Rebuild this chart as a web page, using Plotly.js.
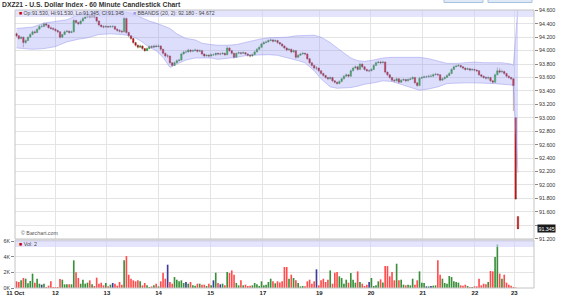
<!DOCTYPE html>
<html><head><meta charset="utf-8">
<script src="https://cdn.plot.ly/plotly-3.0.1.min.js"></script>
<style>html,body{margin:0;padding:0;background:#fff}#chart{width:562px;height:300px}</style>
</head><body><div id="chart"></div>
<script>
// ---- data (60-minute bars, DXZ21) ----
const openP = [
94.25,94.22,94.18,94.20,94.12,94.15,94.20,94.24,94.28,94.27,
94.32,94.36,94.36,94.40,94.38,94.34,94.33,94.32,94.30,94.28,
94.20,94.24,94.28,94.29,94.27,94.28,94.45,94.42,94.40,94.44,
94.48,94.50,94.52,94.50,94.53,94.50,94.44,94.38,94.36,94.35,
94.36,94.35,94.36,94.36,94.32,94.30,94.29,94.28,94.48,94.27,
94.22,94.18,94.12,94.08,94.05,94.07,94.03,94.00,94.03,94.06,
94.05,94.07,94.06,94.07,94.02,93.96,93.92,93.92,93.82,93.78,
93.82,93.85,93.86,93.95,93.98,93.98,94.01,93.99,94.00,94.01,
93.99,94.00,93.95,93.92,93.93,93.92,93.94,93.94,93.96,93.95,
93.95,93.96,93.94,94.04,94.00,93.96,93.90,93.96,93.97,93.96,
93.97,93.95,93.93,93.92,93.94,93.98,94.02,94.05,94.10,94.12,
94.13,94.15,94.16,94.14,94.15,94.12,94.10,94.07,94.04,94.01,
94.02,93.98,94.00,93.90,93.93,93.95,93.96,93.95,93.88,93.82,
93.78,93.74,93.74,93.70,93.66,93.63,93.60,93.58,93.60,93.55,
93.53,93.51,93.54,93.58,93.62,93.64,93.62,93.70,93.74,93.76,
93.72,93.80,93.76,93.72,93.70,93.70,93.72,93.78,93.82,93.83,
93.82,93.83,93.68,93.64,93.60,93.56,93.55,93.58,93.53,93.56,
93.57,93.55,93.57,93.58,93.60,93.52,93.48,93.59,93.60,93.61,
93.61,93.62,93.62,93.64,93.65,93.64,93.56,93.58,93.60,93.63,
93.66,93.72,93.76,93.77,93.78,93.76,93.74,93.72,93.73,93.71,
93.72,93.71,93.70,93.64,93.62,93.60,93.59,93.60,93.55,93.53,
93.64,93.70,93.68,93.69,93.66,93.62,93.60,93.58,93.00,91.53];
const highP = [
94.27,94.23,94.22,94.21,94.17,94.21,94.26,94.30,94.30,94.33,
94.38,94.39,94.42,94.41,94.39,94.36,94.35,94.33,94.31,94.29,
94.25,94.30,94.31,94.30,94.30,94.47,94.46,94.43,94.46,94.50,
94.53,94.55,94.54,94.57,94.55,94.51,94.45,94.39,94.38,94.38,
94.37,94.38,94.38,94.37,94.33,94.32,94.31,94.50,94.49,94.28,
94.23,94.19,94.13,94.09,94.09,94.08,94.04,94.05,94.08,94.08,
94.09,94.09,94.09,94.08,94.03,93.97,93.95,93.93,93.83,93.84,
93.87,93.88,93.97,94.00,94.01,94.03,94.02,94.02,94.03,94.02,
94.02,94.01,93.96,93.95,93.95,93.96,93.96,93.97,93.97,93.97,
93.98,93.97,94.07,94.05,94.01,93.97,93.97,93.99,93.98,93.99,
93.98,93.96,93.95,93.96,94.00,94.04,94.07,94.12,94.14,94.15,
94.17,94.18,94.17,94.17,94.16,94.13,94.11,94.08,94.05,94.04,
94.03,94.02,94.01,93.95,93.97,93.98,93.97,93.96,93.89,93.83,
93.79,93.77,93.75,93.71,93.67,93.64,93.61,93.62,93.61,93.56,
93.54,93.56,93.60,93.64,93.66,93.65,93.72,93.76,93.78,93.77,
93.82,93.81,93.77,93.73,93.72,93.74,93.80,93.84,93.85,93.85,
93.85,93.84,93.69,93.65,93.61,93.58,93.60,93.59,93.58,93.59,
93.58,93.59,93.60,93.62,93.61,93.53,93.61,93.62,93.63,93.63,
93.64,93.65,93.66,93.67,93.66,93.65,93.60,93.62,93.65,93.68,
93.74,93.78,93.79,93.80,93.79,93.77,93.75,93.75,93.74,93.74,
93.73,93.72,93.71,93.65,93.63,93.62,93.62,93.61,93.56,93.66,
93.75,93.74,93.72,93.70,93.67,93.63,93.61,93.59,93.00,91.53];
const lowP = [
94.20,94.16,94.17,94.05,94.10,94.14,94.19,94.23,94.25,94.26,
94.31,94.34,94.35,94.36,94.33,94.31,94.30,94.28,94.26,94.18,
94.19,94.23,94.27,94.25,94.26,94.27,94.40,94.38,94.39,94.43,
94.47,94.49,94.48,94.49,94.48,94.42,94.36,94.34,94.33,94.34,
94.34,94.34,94.34,94.31,94.28,94.27,94.26,94.27,94.25,94.20,
94.16,94.10,94.06,94.03,94.04,94.01,93.98,93.99,94.02,94.03,
94.04,94.05,94.05,94.00,93.94,93.90,93.89,93.80,93.76,93.77,
93.81,93.84,93.85,93.94,93.96,93.97,93.97,93.98,93.99,93.97,
93.98,93.93,93.90,93.91,93.90,93.91,93.92,93.92,93.93,93.93,
93.94,93.92,93.93,93.98,93.94,93.88,93.89,93.95,93.94,93.95,
93.93,93.91,93.90,93.91,93.93,93.97,94.01,94.04,94.09,94.11,
94.12,94.14,94.12,94.13,94.10,94.08,94.05,94.02,93.99,94.00,
93.96,93.97,93.88,93.89,93.92,93.94,93.93,93.86,93.80,93.76,
93.72,93.71,93.68,93.64,93.61,93.58,93.56,93.57,93.53,93.51,
93.49,93.50,93.53,93.57,93.61,93.60,93.61,93.69,93.73,93.70,
93.71,93.74,93.70,93.68,93.68,93.69,93.71,93.77,93.81,93.80,
93.81,93.66,93.62,93.58,93.54,93.53,93.54,93.51,93.52,93.55,
93.53,93.54,93.56,93.57,93.50,93.46,93.47,93.58,93.59,93.59,
93.60,93.60,93.61,93.63,93.62,93.54,93.55,93.57,93.59,93.62,
93.65,93.71,93.75,93.76,93.74,93.72,93.70,93.71,93.69,93.70,
93.69,93.68,93.62,93.60,93.58,93.57,93.57,93.53,93.51,93.52,
93.63,93.66,93.67,93.64,93.60,93.58,93.56,93.10,91.78,91.345];
const closeP = [
94.22,94.18,94.20,94.12,94.15,94.20,94.24,94.28,94.27,94.32,
94.36,94.36,94.40,94.38,94.34,94.33,94.32,94.30,94.28,94.20,
94.24,94.28,94.29,94.27,94.28,94.45,94.42,94.40,94.44,94.48,
94.50,94.52,94.50,94.53,94.50,94.44,94.38,94.36,94.35,94.36,
94.35,94.36,94.36,94.32,94.30,94.29,94.28,94.48,94.27,94.22,
94.18,94.12,94.08,94.05,94.07,94.03,94.00,94.03,94.06,94.05,
94.07,94.06,94.07,94.02,93.96,93.92,93.92,93.82,93.78,93.82,
93.85,93.86,93.95,93.98,93.98,94.01,93.99,94.00,94.01,93.99,
94.00,93.95,93.92,93.93,93.92,93.94,93.94,93.96,93.95,93.95,
93.96,93.94,94.04,94.00,93.96,93.90,93.96,93.97,93.96,93.97,
93.95,93.93,93.92,93.94,93.98,94.02,94.05,94.10,94.12,94.13,
94.15,94.16,94.14,94.15,94.12,94.10,94.07,94.04,94.01,94.02,
93.98,94.00,93.90,93.93,93.95,93.96,93.95,93.88,93.82,93.78,
93.74,93.74,93.70,93.66,93.63,93.60,93.58,93.60,93.55,93.53,
93.51,93.54,93.58,93.62,93.64,93.62,93.70,93.74,93.76,93.72,
93.80,93.76,93.72,93.70,93.70,93.72,93.78,93.82,93.83,93.82,
93.83,93.68,93.64,93.60,93.56,93.55,93.58,93.53,93.56,93.57,
93.55,93.57,93.58,93.60,93.52,93.48,93.59,93.60,93.61,93.61,
93.62,93.62,93.64,93.65,93.64,93.56,93.58,93.60,93.63,93.66,
93.72,93.76,93.77,93.78,93.76,93.74,93.72,93.73,93.71,93.72,
93.71,93.70,93.64,93.62,93.60,93.59,93.60,93.55,93.53,93.64,
93.70,93.68,93.69,93.66,93.62,93.60,93.58,93.48,91.79,91.345];
const volume = [
850,765,980,1275,1190,600,900,1830,680,1190,
550,425,550,130,300,850,130,130,130,1150,
1060,470,470,470,470,3530,2000,1275,550,1060,
550,680,980,470,255,1320,550,680,340,640,
210,425,640,550,300,765,400,3530,4080,1700,
1190,980,850,980,850,340,640,340,130,200,
340,550,210,850,1955,1190,2975,765,550,1400,
1060,850,980,640,765,550,765,340,300,550,
550,425,425,255,550,340,980,1955,640,470,
550,340,2040,1910,2250,1700,640,340,980,340,
425,255,300,340,640,470,255,850,340,425,
765,1190,850,600,850,700,850,2680,2680,1190,
1700,1275,980,640,210,250,210,850,1060,550,
850,2380,340,980,1190,765,1060,2250,550,1955,
2040,1490,1275,550,1060,680,1910,1060,680,2125,
765,550,255,425,765,1275,255,340,850,1100,
700,2800,2800,1490,2040,980,3100,980,1060,425,
340,400,340,1190,425,980,2125,680,640,210,
210,255,300,340,3530,1700,1190,640,550,1530,
1400,850,765,680,340,300,425,255,130,130,
210,210,1190,340,550,470,765,2170,2125,3950,
5570,1830,1190,1700,680,425,300,130,60,2];
// Bollinger band (20,2) read at sampled bars
const bbBars  = [0,7,12,17,22,27,31,36,41,46,50,54,58,61,64,67,70,74,78,81,85,88,92,96,101,106,110,114,118,122,126,130,133,137,140,143,146,149,152,156,160,164,168,172,176,180,184,188,192,196,200,204,208,212,216,217,218,219];
const bbUpper = [94.33,94.35,94.41,94.43,94.46,94.53,94.57,94.58,94.58,94.58,94.56,94.50,94.44,94.41,94.37,94.33,94.25,94.18,94.16,94.11,94.09,94.08,94.08,94.09,94.13,94.17,94.19,94.19,94.20,94.22,94.23,94.23,94.20,94.12,94.04,93.96,93.89,93.85,93.84,93.86,93.89,93.90,93.90,93.90,93.90,93.88,93.85,93.81,93.81,93.82,93.83,93.82,93.82,93.82,93.80,93.78,94.20,94.672];
const bbLower = [94.04,94.02,94.03,94.06,94.13,94.17,94.19,94.24,94.25,94.24,94.22,94.15,94.05,94.00,93.90,93.75,93.80,93.86,93.89,93.89,93.89,93.87,93.88,93.90,93.93,93.94,93.94,93.93,93.90,93.86,93.82,93.70,93.58,93.46,93.44,93.44,93.45,93.47,93.50,93.52,93.55,93.54,93.50,93.45,93.41,93.43,93.46,93.51,93.52,93.52,93.52,93.52,93.51,93.50,93.49,93.47,92.90,92.18];
const dayTickVals = [-0.6,17,39.5,62,84.8,107.6,132.2,154.8,177.4,200.2,217.4];
const dayTickText = ['11 Oct','12','13','14','15','17','19','20','21','22','23'];
const priceTickVals = [91.2,91.4,91.6,91.8,92.0,92.2,92.4,92.6,92.8,93.0,93.2,93.4,93.6,93.8,94.0,94.2,94.4,94.6];
const priceTickText = ['91.200','','91.600','91.800','92.000','92.200','92.400','92.600','92.800','93.000','93.200','93.400','93.600','93.800','94.000','94.200','94.400','94.600'];
const volTickVals = [0,2000,4000,6000];
const volTickText = ['0K','2K','4K','6K'];

const barX = closeP.map((_, i) => i);
const volColors = closeP.map((c, i) => c > openP[i] ? '#3a8f3a' : (c < openP[i] ? '#ff4d4d' : '#3b3b99'));

const FONT = 'Liberation Sans, Arial, sans-serif';

const traces = [
  {type:'scatter', mode:'lines', x:bbBars, y:bbUpper, xaxis:'x', yaxis:'y',
   line:{color:'rgba(140,140,235,0.75)', width:0.6}, hoverinfo:'skip'},
  {type:'scatter', mode:'lines', x:bbBars, y:bbLower, xaxis:'x', yaxis:'y',
   line:{color:'rgba(140,140,235,0.75)', width:0.6}, fill:'tonexty',
   fillcolor:'rgba(150,150,245,0.32)', hoverinfo:'skip'},
  {type:'candlestick', x:barX, open:openP, high:highP, low:lowP, close:closeP,
   xaxis:'x', yaxis:'y', whiskerwidth:0,
   increasing:{line:{color:'#2f5f2f', width:0.35}, fillcolor:'#16c416'},
   decreasing:{line:{color:'#5a2020', width:0.35}, fillcolor:'#ee0a0a'},
   hoverinfo:'skip'},
  {type:'bar', x:barX, y:volume, xaxis:'x', yaxis:'y2', width:0.72,
   marker:{color:volColors, line:{width:0}}, hoverinfo:'skip'}
];

const layout = {
  width:562, height:300,
  margin:{l:15, r:28, t:10, b:12},
  paper_bgcolor:'#fff', plot_bgcolor:'#fff',
  showlegend:false,
  boxgap:0.08,
  font:{family:FONT, size:6, color:'#333'},
  title:{text:'<b>DXZ21 - U.S. Dollar Index - 60 Minute Candlestick Chart</b>',
         x:2/562, xref:'container', xanchor:'left', y:1-4.5/300, yref:'container', yanchor:'middle',
         font:{family:FONT, size:6.8, color:'#333'}},
  xaxis:{domain:[0,1], range:[-0.66, 226], anchor:'y2',
         tickmode:'array', tickvals:dayTickVals, ticktext:dayTickText,
         showgrid:true, gridcolor:'#e4e4e4', gridwidth:1, zeroline:false,
         ticks:'', tickfont:{family:FONT, size:6, color:'#222', weight:'bold'},
         rangeslider:{visible:false}, showline:false, fixedrange:true},
  yaxis:{domain:[49/278, 1], range:[91.195, 94.605], side:'right',
         tickmode:'array', tickvals:priceTickVals, ticktext:priceTickText,
         ticks:'outside', ticklen:3, tickcolor:'#888',
         tickfont:{family:FONT, size:5.3, color:'#333'},
         showgrid:true, gridcolor:'#e4e4e4', zeroline:false, showline:false, fixedrange:true},
  yaxis2:{domain:[0, 48/278], range:[0, 6130], side:'left', anchor:'x',
          tickmode:'array', tickvals:volTickVals, ticktext:volTickText,
          ticks:'outside', ticklen:3, tickcolor:'#888',
          tickfont:{family:FONT, size:5.3, color:'#333'},
          showgrid:true, gridcolor:'#e4e4e4', zeroline:false, showline:false, fixedrange:true},
  shapes:[
    {type:'rect', xref:'x domain', yref:'y domain', x0:0, x1:1, y0:1-7/229, y1:1,
     fillcolor:'rgba(210,210,250,0.6)', line:{width:0}, layer:'above'},
    {type:'rect', xref:'x domain', yref:'y2 domain', x0:0, x1:1, y0:1-7/48, y1:1,
     fillcolor:'rgba(210,210,250,0.6)', line:{width:0}, layer:'above'},
    {type:'rect', xref:'x domain', yref:'y domain', x0:0, x1:1, y0:0, y1:1,
     fillcolor:'rgba(0,0,0,0)', line:{color:'#c4c4c4', width:1}, layer:'above'},
    {type:'rect', xref:'x domain', yref:'y2 domain', x0:0, x1:1, y0:0, y1:1,
     fillcolor:'rgba(0,0,0,0)', line:{color:'#c4c4c4', width:1}, layer:'above'},
    {type:'rect', xref:'paper', yref:'paper', x0:(444-15)/519, x1:(483-15)/519, y0:(288-2.5)/278, y1:1.1,
     fillcolor:'#dfeaf6', line:{color:'#a8c2e2', width:1}},
    {type:'rect', xref:'paper', yref:'paper', x0:(488-15)/519, x1:(532-15)/519, y0:(288-2.5)/278, y1:1.1,
     fillcolor:'#dfeaf6', line:{color:'#a8c2e2', width:1}}
  ],
  annotations:[
    {xref:'x domain', yref:'y domain', x:0, y:1-3.5/229, xshift:2, xanchor:'left', yanchor:'middle', showarrow:false,
     text:"<span style='color:#cc0000'>■</span> Op:91.530, Hi:91.530, Lo:91.345, Cl:91.345",
     font:{family:FONT, size:5.2, color:'#444'}},
    {xref:'x domain', yref:'y domain', x:(131-15)/519, y:1-3.5/229, xanchor:'left', yanchor:'middle', showarrow:false,
     text:"<span style='color:#9c9cee'>■</span> BBANDS (20, 2): 92.180 - 94.672",
     font:{family:FONT, size:5.2, color:'#444'}},
    {xref:'x domain', yref:'y domain', x:0, y:6/229, xshift:4, xanchor:'left', yanchor:'middle', showarrow:false,
     text:'© Barchart.com', font:{family:FONT, size:5.3, color:'#555'}},
    {xref:'x domain', yref:'y2 domain', x:0, y:1-3.5/48, xshift:2, xanchor:'left', yanchor:'middle', showarrow:false,
     text:"<span style='color:#cc0000'>■</span> Vol: 2", font:{family:FONT, size:5.3, color:'#444'}},
    {xref:'paper', yref:'y', x:1, y:91.345, xshift:3, xanchor:'left', yanchor:'middle', showarrow:false,
     text:'91.345', bgcolor:'#1a1a1a', borderpad:0.5, font:{family:FONT, size:5.3, color:'#fff'}}
  ]
};

Plotly.newPlot('chart', traces, layout, {staticPlot:true, displayModeBar:false});
</script></body></html>
